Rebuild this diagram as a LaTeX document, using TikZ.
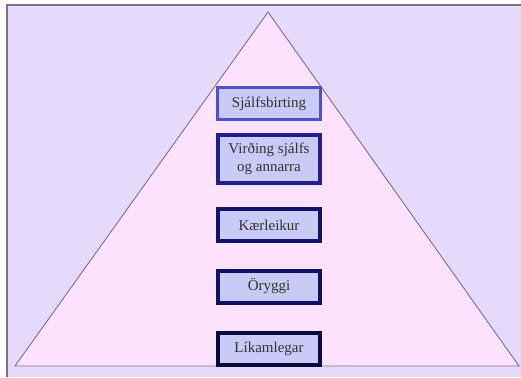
\documentclass[tikz,border=0pt]{standalone}
\usepackage{fontspec}
\setmainfont{Liberation Serif}
\definecolor{bgLav}{HTML}{E6DAFC}
\definecolor{triPink}{HTML}{FCE2FC}
\definecolor{boxFill}{HTML}{CACAF6}
\definecolor{edgeGray}{HTML}{7A7088}
\tikzset{
  level/.style={draw, fill=boxFill, line width=4pt, minimum width=102pt,
    minimum height=32pt, inner sep=0pt, align=center,
    font=\fontsize{15}{18}\selectfont, text=black!80}
}
\begin{document}
\begin{tikzpicture}[x=1pt, y=-1pt]
  \useasboundingbox (0,0) rectangle (521,377);
  % Background panel
  \fill[bgLav] (7,5) rectangle (521,377);
  \draw[edgeGray, line width=1.2pt] (7,377) -- (7,5) -- (521,5);

  % The pyramid
  \filldraw[fill=triPink, draw=edgeGray, line width=0.9pt]
    (268,12) -- (519,366) -- (15,366) -- cycle;

  % Levels, top to bottom
  \node[level, draw={rgb,255:red,80;green,80;blue,200}, line width=3pt,
    minimum width=103pt, minimum height=32pt] (self) at (269,103.5) {Sjálfsbirting};
  \node[level, draw={rgb,255:red,32;green,32;blue,140},
    minimum height=48pt] (esteem) at (269,159) {Virðing sjálfs\\og annarra};
  \node[level, draw={rgb,255:red,18;green,18;blue,105}] (love) at (269,225) {Kærleikur};
  \node[level, draw={rgb,255:red,16;green,16;blue,96}] (safety) at (269,286.5) {Öryggi};
  \node[level, draw={rgb,255:red,10;green,10;blue,60}] (body) at (269,348.5) {Líkamlegar};
\end{tikzpicture}
\end{document}
